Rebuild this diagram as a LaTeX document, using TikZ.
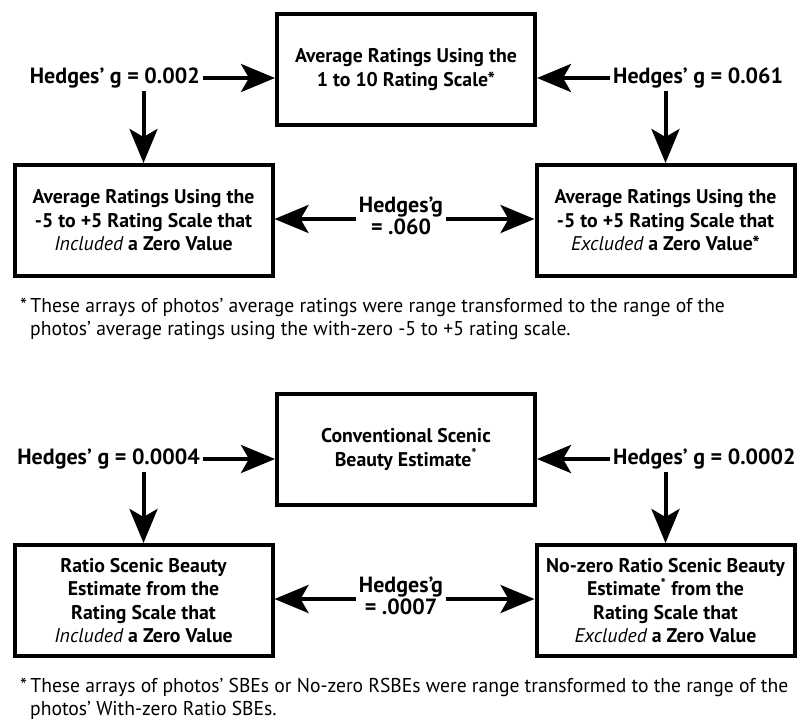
\documentclass[tikz,border=0pt]{standalone}
\usepackage{fontspec}
\setmainfont{PT Sans}
\newfontfamily\narrowfont[FakeStretch=0.98]{PT Sans}
\usetikzlibrary{arrows.meta,positioning}
\begin{document}
\begin{tikzpicture}[x=1pt,y=1pt]
                \tikzstyle{every node}+=[inner sep=0pt]
                \tikzstyle{box}=[draw,line width=4pt,minimum width=258pt,minimum height=111pt,align=center,font=\bfseries\fontsize{19.8}{23.5}\selectfont]
                \tikzstyle{hedges}=[inner sep=3pt,align=center,font=\bfseries\fontsize{22}{22}\selectfont]
                \tikzstyle{arr}=[line width=4pt,-{Stealth[length=34pt,width=28pt,inset=8pt]}]
                \tikzstyle{note}=[anchor=north west,align=left,font=\narrowfont\fontsize{20}{23}\selectfont]
                \useasboundingbox (0,0) rectangle (797,-723);
                \node [box] (avg) at (406,-69.5) {Average Ratings Using the\\1 to 10 Rating Scale*};
                \node [box] (incl) at (143.5,-220.5) {Average Ratings Using the\\-5 to +5 Rating Scale that\\{\mdseries\itshape Included} a Zero Value};
                \node [box] (excl) at (665.5,-220.5) {Average Ratings Using the\\-5 to +5 Rating Scale that\\{\mdseries\itshape Excluded} a Zero Value*};
                \node [hedges,anchor=east] (gA) at (203,-78) {Hedges’ g = 0.002};
                \node [hedges,anchor=west] (gB) at (610,-78) {Hedges’ g = 0.061};
                \node [hedges] (gC) at (401,-216) {Hedges’g\\= .060};
                \draw [arr] (gA.east) -- (gA.east -| avg.west);
                \draw [arr] (gB.west) -- (gB.west -| avg.east);
                \draw [arr] (gA.south -| incl.north) -- (incl.north);
                \draw [arr] (gB.south -| excl.north) -- (excl.north);
                \draw [arr] ([yshift=-3pt]gC.west) -- ([yshift=-3pt]gC.west -| incl.east);
                \draw [arr] ([yshift=-3pt]gC.east) -- ([yshift=-3pt]gC.east -| excl.west);
                \node [note] (noteA) at (20,-298) {*\,These arrays of photos’ average ratings were range transformed to the range of the\\\hspace{10pt}photos’ average ratings using the with-zero -5 to +5 rating scale.};
                \node [box] (sbe) at (406,-449.5) {Conventional Scenic\\Beauty Estimate\textsuperscript{*}};
                \node [box] (rsbe) at (143.5,-600.5) {Ratio Scenic Beauty\\Estimate from the\\Rating Scale that\\{\mdseries\itshape Included} a Zero Value};
                \node [box] (nzrsbe) at (665.5,-600.5) {No-zero Ratio Scenic Beauty\\Estimate\textsuperscript{*} from the\\Rating Scale that\\{\mdseries\itshape Excluded} a Zero Value};
                \node [hedges,anchor=east] (gD) at (203,-459) {Hedges’ g = 0.0004};
                \node [hedges,anchor=west] (gE) at (610,-459) {Hedges’ g = 0.0002};
                \node [hedges] (gF) at (401,-596) {Hedges’g\\= .0007};
                \draw [arr] (gD.east) -- (gD.east -| sbe.west);
                \draw [arr] (gE.west) -- (gE.west -| sbe.east);
                \draw [arr] (gD.south -| rsbe.north) -- (rsbe.north);
                \draw [arr] (gE.south -| nzrsbe.north) -- (nzrsbe.north);
                \draw [arr] ([yshift=-3pt]gF.west) -- ([yshift=-3pt]gF.west -| rsbe.east);
                \draw [arr] ([yshift=-3pt]gF.east) -- ([yshift=-3pt]gF.east -| nzrsbe.west);
                \node [note] (noteB) at (20,-678) {*\,These arrays of photos’ SBEs or No-zero RSBEs were range transformed to the range of the\\\hspace{10pt}photos’ With-zero Ratio SBEs.};
\end{tikzpicture}
\end{document}
